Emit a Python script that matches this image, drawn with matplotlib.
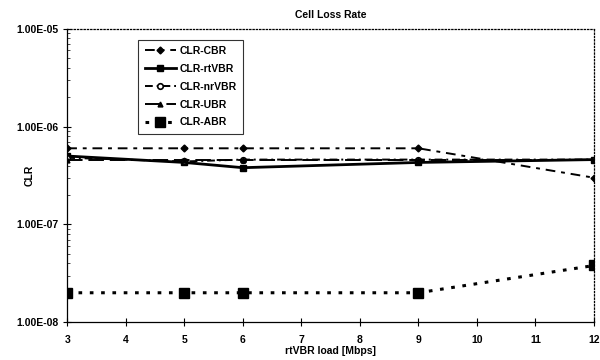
import matplotlib
matplotlib.use('Agg')
import matplotlib.pyplot as plt
from matplotlib.ticker import FixedLocator, FuncFormatter, LogLocator, NullFormatter

# Data
load = [3, 5, 6, 9, 12]
clr_cbr = [6.0e-7, 6.0e-7, 6.0e-7, 6.0e-7, 3.0e-7]
clr_rtvbr = [5.0e-7, 4.3e-7, 3.8e-7, 4.3e-7, 4.6e-7]
clr_nrvbr = [4.8e-7, 4.4e-7, 4.6e-7, 4.6e-7, 4.6e-7]
clr_ubr = [4.6e-7, 4.6e-7, 4.6e-7, 4.6e-7, 4.6e-7]
clr_abr = [2.0e-8, 2.0e-8, 2.0e-8, 2.0e-8, 3.8e-8]
x_ticks = [3, 4, 5, 6, 7, 8, 9, 10, 11, 12]
y_ticks = [1e-8, 1e-7, 1e-6, 1e-5]

plt.rcParams['font.family'] = ['Liberation Sans', 'DejaVu Sans']
plt.rcParams['font.weight'] = 'bold'

fig = plt.figure(figsize=(6, 3.6), dpi=100)
ax = fig.add_axes([0.112, 0.105, 0.878, 0.815])

ax.plot(load, clr_cbr, color='black', lw=1.4, ls=(0, (5, 3, 2, 3)), marker='D', ms=3.5, label='CLR-CBR')
ax.plot(load, clr_rtvbr, color='black', lw=2.0, ls='-', marker='s', ms=5, label='CLR-rtVBR')
ax.plot(load, clr_nrvbr, color='black', lw=1.4, ls=(0, (4, 2, 1, 2)), marker='o', ms=4,
        mfc='white', mew=1.2, label='CLR-nrVBR')
ax.plot(load, clr_ubr, color='black', lw=1.4, ls=(0, (8, 3)), marker='^', ms=3.5, label='CLR-UBR')
ax.plot(load, clr_abr, color='black', lw=2.2, ls=(0, (1.2, 2.5)), marker='s', ms=7, label='CLR-ABR')

ax.set_yscale('log')
ax.set_ylim(1e-8, 1e-5)
ax.set_xlim(3, 12)
ax.xaxis.set_major_locator(FixedLocator(x_ticks))
ax.yaxis.set_major_locator(FixedLocator(y_ticks))
ax.yaxis.set_minor_locator(LogLocator(base=10, subs=range(2, 10)))
ax.yaxis.set_minor_formatter(NullFormatter())
ax.yaxis.set_major_formatter(FuncFormatter(lambda v, p: '%.2E' % v))
ax.tick_params(axis='both', which='major', direction='inout', length=6, width=0.8, labelsize=7.5)
ax.tick_params(axis='y', which='minor', direction='in', length=2, width=0.5)
ax.tick_params(axis='x', pad=6)

ax.spines['top'].set_linestyle(':')
ax.spines['right'].set_linestyle(':')
for s in ax.spines.values():
    s.set_linewidth(0.9)

ax.set_title('Cell Loss Rate', fontsize=7.5, fontweight='bold', pad=8)
ax.set_xlabel('rtVBR load [Mbps]', fontsize=7.5, fontweight='bold', labelpad=1)
ax.set_ylabel('CLR', fontsize=7.5, fontweight='bold')
ax.yaxis.set_label_coords(-0.062, 0.5)

leg = ax.legend(loc='upper left', bbox_to_anchor=(0.125, 0.98), fontsize=7.5, frameon=True,
                fancybox=False, edgecolor='black', handlelength=3.0, borderpad=0.6,
                labelspacing=0.75, handletextpad=0.4)
leg.get_frame().set_linewidth(0.8)

fig.savefig('out.png', dpi=100)
